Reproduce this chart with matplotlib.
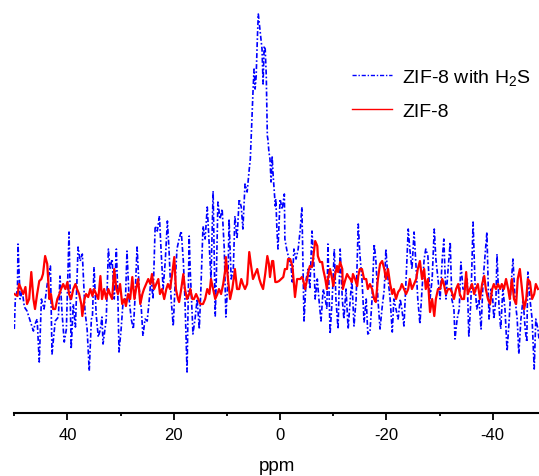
"""
ZIF-8 与 ZIF-8 吸附 H2S 后的 NMR 谱图对比
"""
import matplotlib
matplotlib.use('Agg')
import matplotlib.pyplot as plt
from matplotlib.ticker import MultipleLocator

plt.rcParams['font.family'] = ['Liberation Sans', 'DejaVu Sans']
plt.rcParams['mathtext.default'] = 'regular'

# ========== 数据（从图中读取，强度为任意单位） ==========
ppm_h2s = [50.0, 49.8, 49.4, 49.3, 48.9, 48.5, 48.1, 47.6, 47.0, 46.4, 46.1, 45.7, 45.3, 44.9,
           44.4, 43.8, 43.2, 42.9, 42.3, 41.7, 41.4, 41.0, 40.6, 40.2, 39.7, 39.3, 38.9, 38.5,
           38.0, 37.6, 37.2, 36.7, 36.3, 35.9, 35.5, 35.3, 35.0, 34.6, 34.2, 33.8, 33.5, 33.3,
           32.7, 32.3, 32.0, 31.6, 31.2, 30.8, 30.5, 30.3, 29.9, 29.5, 29.1, 28.8, 28.4, 28.0,
           27.6, 27.3, 26.9, 26.5, 26.1, 25.8, 25.4, 25.0, 24.6, 24.3, 23.9, 23.5, 23.1, 22.7,
           22.4, 22.0, 21.6, 21.2, 20.9, 20.5, 20.1, 19.7, 19.4, 19.0, 18.6, 18.2, 17.9, 17.5,
           17.1, 16.9, 16.5, 16.4, 16.0, 15.6, 15.2, 14.9, 14.5, 14.1, 13.7, 13.3, 13.0, 12.6,
           12.2, 12.0, 11.7, 11.3, 10.9, 10.5, 10.2, 9.8, 9.6, 9.2, 8.8, 8.5, 8.1, 7.7,
           7.3, 7.0, 6.6, 6.2, 5.8, 5.6, 5.3, 5.1, 4.9, 4.7, 4.5, 4.3, 4.1, 3.9,
           3.8, 3.6, 3.4, 3.2, 3.0, 2.8, 2.6, 2.4, 2.3, 2.1, 1.9, 1.7, 1.5, 1.3,
           0.9, 0.8, 0.6, 0.4, 0.0, -0.4, -0.8, -0.9, -1.3, -1.7, -2.1, -2.3, -2.6, -3.0,
           -3.4, -3.8, -4.1, -4.5, -4.9, -5.3, -5.6, -6.0, -6.4, -6.6, -7.0, -7.3, -7.7, -8.1,
           -8.5, -8.8, -9.0, -9.4, -9.8, -10.2, -10.5, -10.9, -11.3, -11.7, -12.0, -12.4, -12.8, -13.2,
           -13.5, -13.9, -14.3, -14.7, -15.0, -15.4, -15.8, -16.2, -16.5, -16.9, -17.3, -17.7, -18.0, -18.4,
           -18.8, -19.2, -19.6, -19.9, -20.3, -20.7, -21.1, -21.4, -21.8, -22.2, -22.6, -22.9, -23.3, -23.7,
           -24.1, -24.4, -24.8, -25.2, -25.6, -25.9, -26.3, -26.7, -27.1, -27.4, -27.8, -28.2, -28.6, -29.0,
           -29.3, -29.7, -30.1, -30.5, -30.8, -31.2, -31.6, -32.0, -32.3, -32.7, -32.9, -33.3, -33.7, -34.0,
           -34.4, -34.8, -35.2, -35.5, -35.9, -36.3, -36.7, -37.0, -37.4, -37.8, -38.2, -38.5, -38.9, -39.3,
           -39.7, -40.0, -40.2, -40.6, -40.8, -41.2, -41.5, -41.9, -42.3, -42.7, -43.1, -43.4, -43.8, -44.2,
           -44.6, -44.9, -45.3, -45.7, -46.1, -46.4, -46.6, -47.0, -47.4, -47.8, -48.1, -48.5, -48.7]
int_h2s = [-34, -4, 6, 51, -4, 4, -12, -16, -26, -36, -29, -24, -67, -4,
           -14, 11, 29, -59, -26, -22, 19, -19, -47, -34, 63, -54, -9, -32,
           48, 34, 41, -16, -34, -76, -24, -22, 28, -19, -42, -34, -22, -49,
           -24, 46, 26, 36, -4, 46, -4, -57, -34, -4, -6, 44, -4, -24,
           -34, -4, 48, 6, -14, -41, -24, -26, -4, 16, -4, 69, 64, 79,
           46, 6, 34, 74, 46, -4, -31, 16, 46, 56, 64, 34, -4, -77,
           59, 24, -24, -39, -24, -4, -34, 6, 69, 56, 88, 46, 16, 104,
           -21, 16, 93, 76, 86, 46, -22, 16, 76, 16, 26, 79, 56, 96,
           88, 66, 111, 103, 126, 136, 176, 203, 226, 206, 219, 253, 281, 271,
           266, 256, 246, 211, 249, 246, 219, 159, 156, 143, 136, 113, 139, 119,
           89, 96, 66, 46, 96, 86, 101, 56, 44, 36, 26, 13, 46, 36,
           46, 66, 88, -26, 16, 26, 6, 64, 26, -4, 16, -4, -26, 6,
           -4, -14, 51, -39, -4, 46, -4, -34, 46, -4, -24, 6, -34, -4,
           16, -31, -4, 71, 41, 16, -27, -4, -39, -37, -4, 51, 36, -4,
           -34, -12, 6, 46, 16, -4, -37, -4, -14, -24, -4, -14, -31, 16,
           66, 46, 26, 63, 26, -4, -29, 6, 36, 46, 39, -4, 16, 66,
           36, 16, -4, 36, 56, -4, 26, 53, -4, -14, -44, -24, -14, 33,
           6, 6, 16, -42, -4, 73, 6, -14, -4, -34, 16, 36, 63, -24,
           6, -4, -24, -4, 41, -14, -34, 6, -14, -56, -24, 6, 36, -4,
           -24, -59, -24, -4, -34, -47, 23, -4, -24, -74, -24, -34, -44]

ppm_zif8 = [50.0, 49.4, 49.1, 48.7, 48.3, 47.9, 47.6, 47.2, 46.8, 46.4, 46.1, 45.7, 45.3, 44.9,
            44.6, 44.2, 43.8, 43.4, 43.1, 42.7, 42.3, 41.9, 41.5, 41.2, 40.8, 40.4, 40.0, 39.7,
            39.3, 38.9, 38.5, 38.2, 37.8, 37.4, 37.2, 36.8, 36.5, 36.1, 35.7, 35.3, 35.0, 34.6,
            34.2, 33.8, 33.5, 33.1, 32.7, 32.3, 32.0, 31.6, 31.2, 30.8, 30.5, 30.1, 29.7, 29.3,
            29.0, 28.6, 28.2, 27.8, 27.4, 27.1, 26.7, 26.3, 25.9, 25.6, 25.2, 24.8, 24.4, 24.1,
            23.7, 23.3, 22.9, 22.6, 22.2, 21.8, 21.4, 21.1, 20.7, 20.3, 19.9, 19.6, 19.2, 19.0,
            18.6, 18.2, 17.9, 17.5, 17.1, 16.9, 16.5, 16.2, 15.8, 15.4, 15.0, 14.5, 14.1, 13.7,
            13.3, 13.0, 12.6, 12.2, 11.8, 11.5, 11.1, 10.7, 10.3, 10.2, 9.8, 9.4, 9.0, 8.6,
            8.5, 8.1, 7.7, 7.3, 7.0, 6.6, 6.2, 5.8, 5.5, 5.1, 4.7, 4.3, 3.9, 3.6,
            3.2, 2.8, 2.4, 2.1, 1.9, 1.5, 1.3, 0.9, 0.6, 0.2, -0.2, -0.6, -0.9, -1.3,
            -1.5, -1.9, -2.3, -2.4, -2.8, -3.2, -3.6, -3.8, -4.1, -4.3, -4.7, -5.1, -5.3, -5.6,
            -6.0, -6.2, -6.6, -7.0, -7.1, -7.5, -7.9, -8.1, -8.5, -8.8, -9.0, -9.4, -9.8, -10.0,
            -10.3, -10.7, -10.9, -11.3, -11.7, -11.8, -12.2, -12.6, -12.8, -13.2, -13.5, -13.7, -14.1, -14.5,
            -14.7, -15.0, -15.4, -15.8, -16.2, -16.5, -16.9, -17.3, -17.7, -18.0, -18.4, -18.8, -19.2, -19.6,
            -19.9, -20.3, -20.7, -21.1, -21.4, -21.8, -22.2, -22.6, -22.9, -23.3, -23.7, -24.1, -24.4, -24.8,
            -25.2, -25.6, -25.9, -26.3, -26.7, -27.1, -27.4, -27.8, -28.2, -28.6, -29.0, -29.3, -29.7, -30.1,
            -30.5, -30.8, -31.2, -31.6, -32.0, -32.3, -32.7, -33.1, -33.5, -33.8, -34.2, -34.6, -35.0, -35.3,
            -35.7, -36.1, -36.5, -36.8, -37.2, -37.6, -38.0, -38.4, -38.7, -39.1, -39.5, -39.9, -40.2, -40.6,
            -41.0, -41.4, -41.7, -42.1, -42.5, -42.9, -43.2, -43.6, -44.0, -44.4, -44.7, -45.1, -45.5, -45.9,
            -46.3, -46.6, -47.0, -47.4, -47.8, -48.1, -48.5]
int_zif8 = [1, -1, 11, 6, 1, 8, -9, -4, 23, -4, -14, 1, 14, 16,
            21, 39, 31, -4, 1, -14, -14, -4, 1, 6, 11, 6, 13, 1,
            -4, 6, 11, 6, 1, -9, -21, -4, 1, -2, 6, -1, 6, 1,
            -4, 19, -4, 6, -4, 6, 1, -4, 26, 6, 1, 11, -9, -4,
            -11, 1, -4, 18, -4, 6, 16, -9, 1, 6, 11, 16, 11, 21,
            6, 11, 16, 1, 6, -4, 6, 11, 6, 21, 38, 6, -4, -7,
            6, 21, 6, -4, 1, 6, -4, -4, 1, -4, -9, -9, -4, 6,
            1, 16, 6, -4, 1, 6, 1, 11, 26, 38, 16, -4, 6, 21,
            26, 6, 6, 16, 11, 6, 11, 43, 31, 16, 21, 26, 16, 11,
            6, 21, 39, 31, 18, 34, 34, 13, 13, 14, 16, 18, 26, 26,
            36, 36, 29, 24, -2, 16, 16, 16, 18, 16, 6, 16, 23, 29,
            28, 36, 54, 49, 39, 33, 33, 26, 16, 6, 16, 26, 16, 9,
            19, 29, 23, 33, 26, 6, 14, 21, 19, 16, 13, 21, 16, 9,
            19, 26, 26, 16, 16, 6, 11, 6, -4, -7, 16, 31, 34, 26,
            16, 26, 11, 1, 6, -4, 3, 6, 11, 6, 1, 6, 16, 6,
            11, 16, 26, 34, 16, 26, 6, 16, -17, -4, -21, -4, 6, 6,
            16, 11, 1, 6, 6, 3, -4, 6, 11, 1, -4, -4, 23, 1,
            6, 11, 1, 6, 11, -4, 11, 19, 6, -4, -9, 6, 11, 6,
            11, 6, 11, 6, 16, 6, -4, 16, -4, -9, 16, 26, 6, -14,
            -4, 16, 13, -4, 1, 11, 6]

major_ticks = [40, 20, 0, -20, -40]
tick_labels = ['40', '20', '0', '-20', '-40']

# ========== 绘图 ==========
fig = plt.figure(figsize=(5.39, 4.77), dpi=100, facecolor='white')
ax = fig.add_axes([0.026, 0.132, 0.974, 0.847])

ax.plot(ppm_h2s, int_h2s, color='#0000FF', linewidth=1.2,
        linestyle=(0, (3, 1.3, 1, 1.3)), label='ZIF-8 with H$_2$S')
ax.plot(ppm_zif8, int_zif8, color='#FF0000', linewidth=1.6, label='ZIF-8')

ax.set_xlim(50.05, -48.7)
ax.set_ylim(-118, 286)

# 只保留底部坐标轴
for side in ['left', 'top', 'right']:
    ax.spines[side].set_visible(False)
ax.spines['bottom'].set_linewidth(1.5)
ax.set_yticks([])

ax.set_xticks(major_ticks)
ax.set_xticklabels(tick_labels, fontsize=12)
ax.xaxis.set_minor_locator(MultipleLocator(10))
ax.tick_params(axis='x', which='major', direction='out', length=5, width=1.3, pad=5)
ax.tick_params(axis='x', which='minor', direction='out', length=2.5, width=1.3)
ax.set_xlabel('ppm', fontsize=13.5, labelpad=11)

leg = ax.legend(loc='upper left', bbox_to_anchor=(0.638, 0.874), bbox_transform=fig.transFigure,
                frameon=False, fontsize=14, handlelength=2.1, handletextpad=0.5,
                labelspacing=0.8, borderaxespad=0)
for line in leg.get_lines():
    line.set_linewidth(1.0)

plt.savefig('out.png', dpi=100, facecolor='white')
plt.close()
